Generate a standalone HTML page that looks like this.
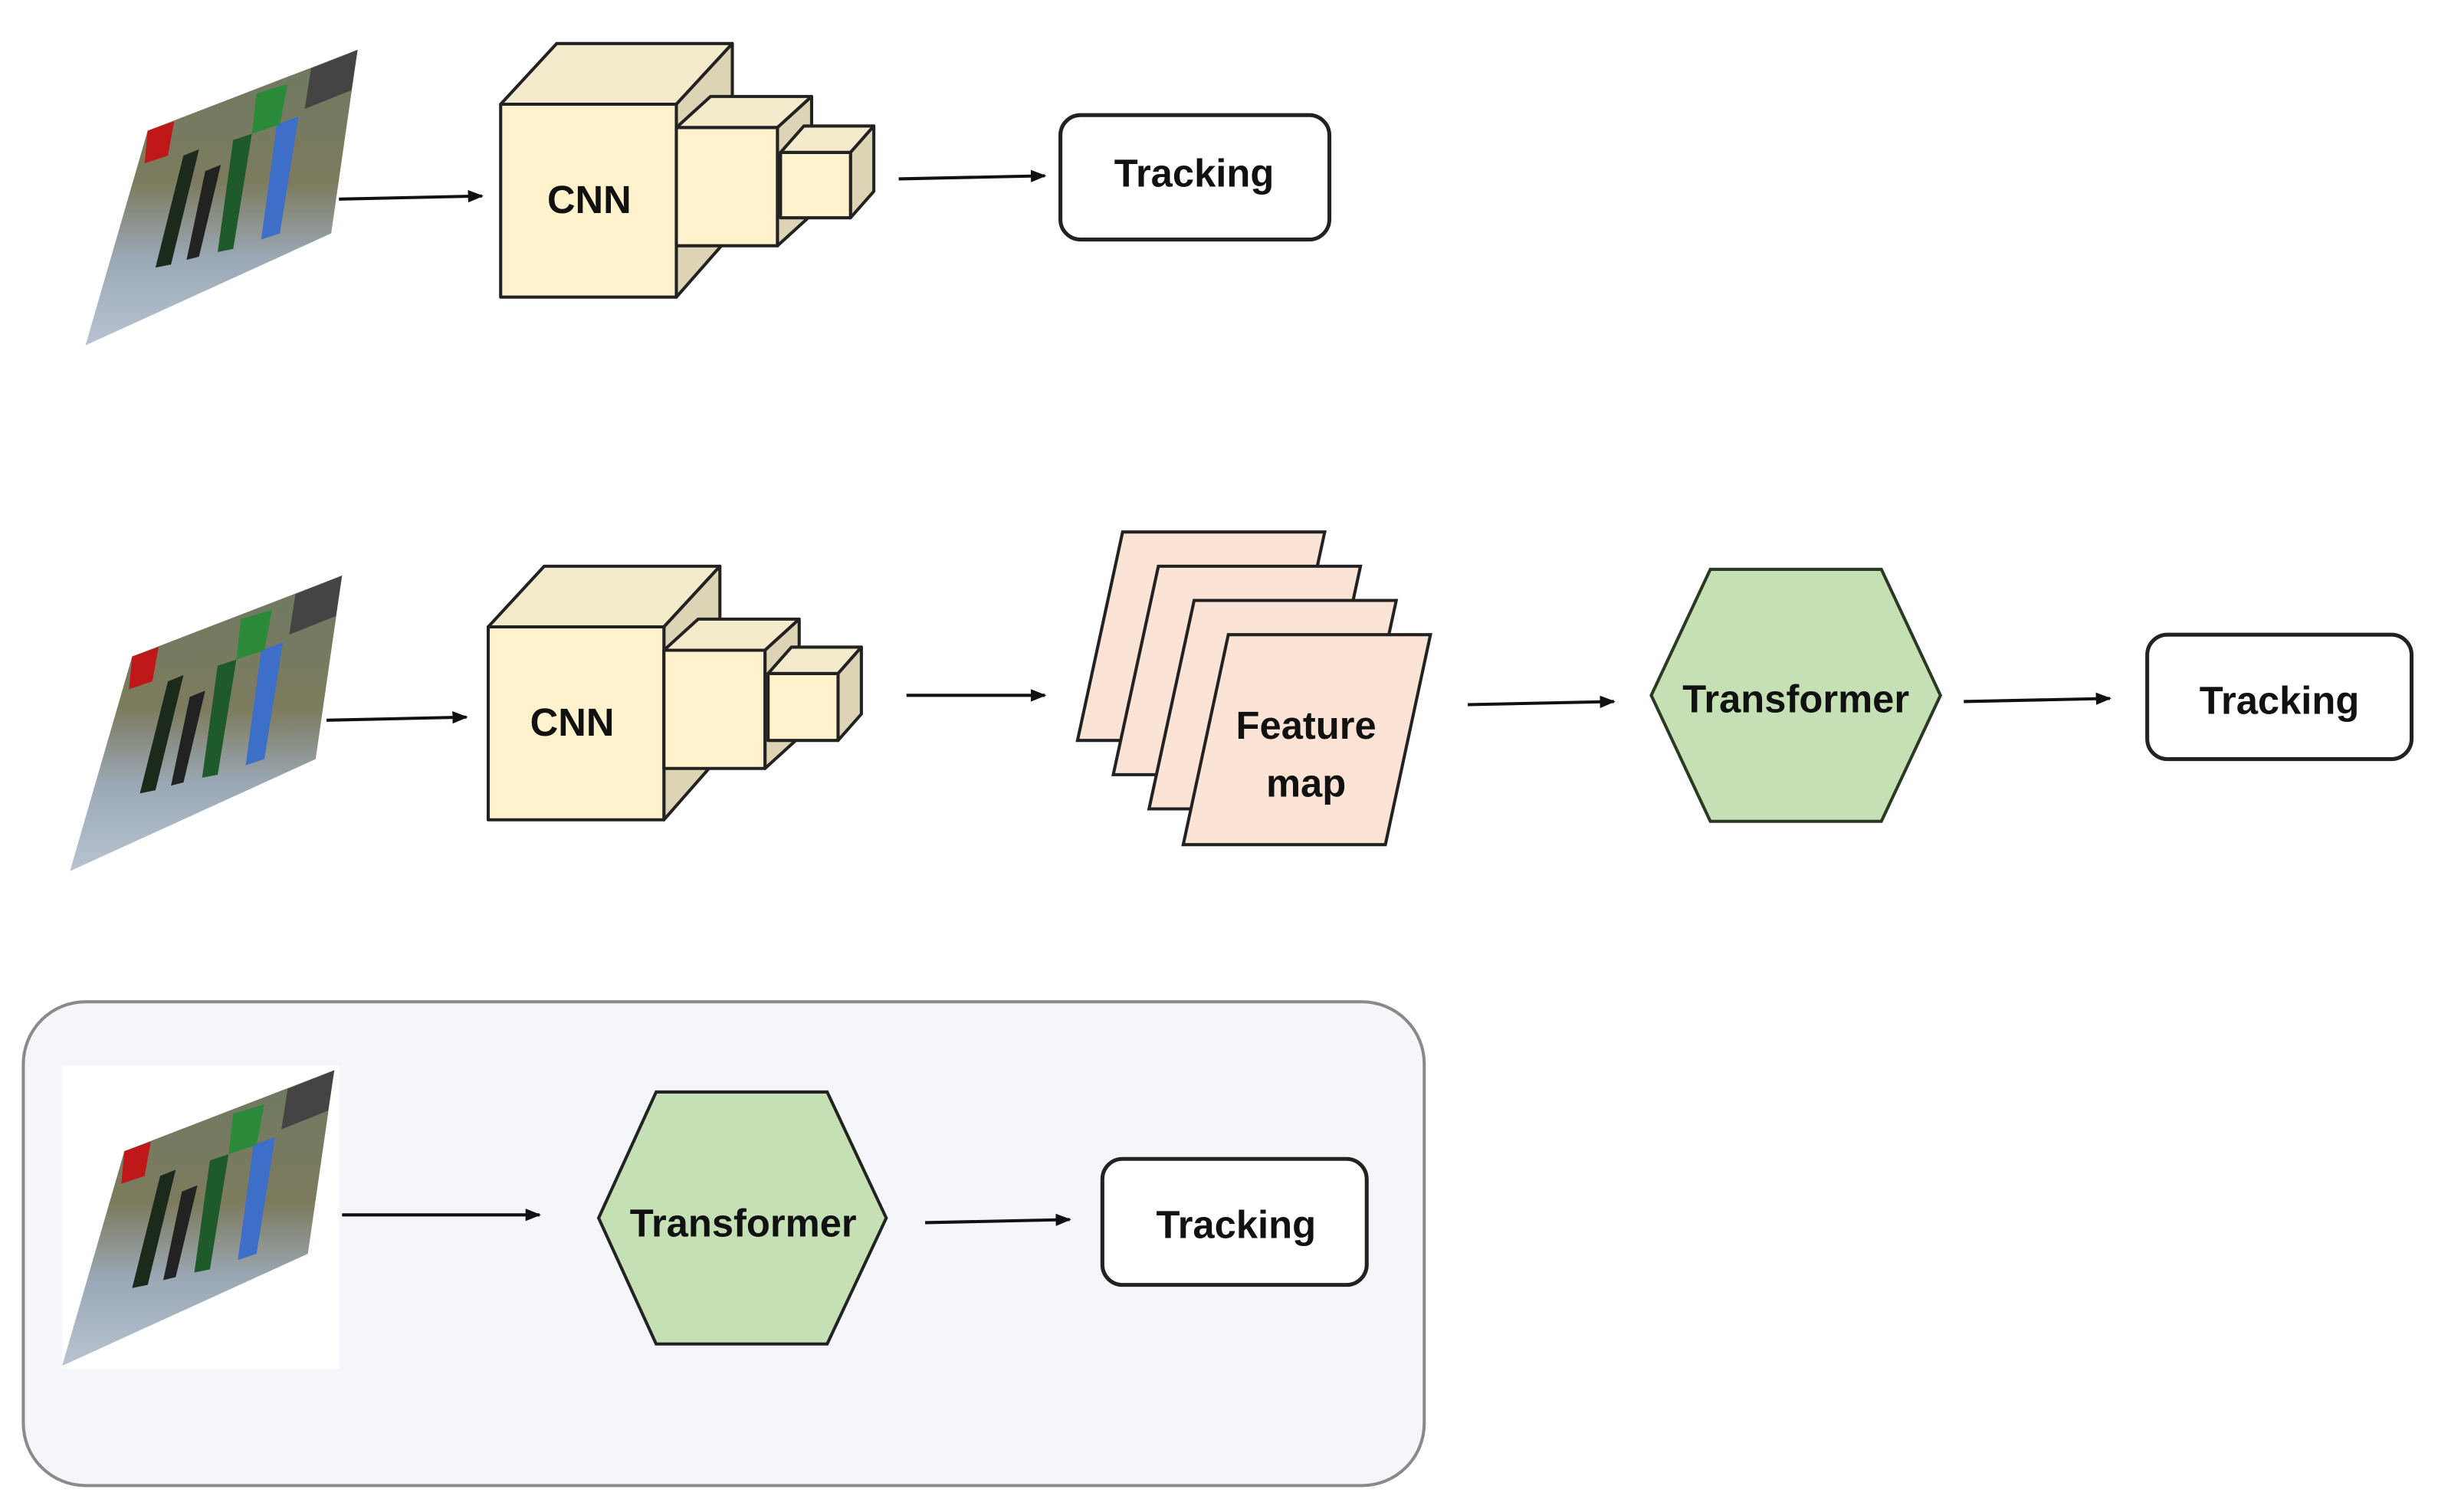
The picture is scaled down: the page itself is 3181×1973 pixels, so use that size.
<!DOCTYPE html>
<html><head><meta charset="utf-8"><style>
html,body{margin:0;padding:0;background:#fff;}
svg{display:block;}
text{font-family:"Liberation Sans",sans-serif;font-weight:bold;fill:#111;}
</style></head><body>
<svg width="3181" height="1973" viewBox="0 0 1568 972" preserveAspectRatio="none" xmlns="http://www.w3.org/2000/svg">
<defs>
<marker id="ah" markerWidth="10" markerHeight="10" refX="9" refY="5" orient="auto" markerUnits="userSpaceOnUse"><path d="M0,1 L10,5 L0,9 Z" fill="#111"/></marker>
<linearGradient id="img" x1="0" y1="0" x2="0" y2="1">
<stop offset="0" stop-color="#6d7a62"/><stop offset="0.45" stop-color="#7d7b5e"/><stop offset="0.7" stop-color="#9aa7b4"/><stop offset="1" stop-color="#b7c3d1"/></linearGradient>
<g id="photo">
<polygon points="95,84 230,32 213,150 55,222" fill="url(#img)"/>
<polygon points="95,84 112,78 108,100 93,105" fill="#c01818"/>
<polygon points="200,44 230,32 226,58 196,70" fill="#444"/>
<polygon points="118,100 128,96 110,170 100,172" fill="#1c2a1c"/>
<polygon points="150,90 162,86 150,160 140,162" fill="#1e5a2a"/>
<polygon points="178,80 192,75 180,150 168,154" fill="#3d6fc8"/>
<polygon points="132,110 142,106 128,165 120,167" fill="#222"/>
<polygon points="165,60 185,54 180,80 162,86" fill="#2a8a3a"/>
</g>
</defs>

<!-- Row 1 -->
<use href="#photo"/>
<line x1="218" y1="128" x2="310" y2="126" stroke="#111" stroke-width="2" marker-end="url(#ah)"/>
<g stroke="#222" stroke-width="2" stroke-linejoin="round">
<polygon points="322,67 358,28 471,28 435,67" fill="#f4ebcd"/>
<polygon points="435,67 471,28 471,150 435,191" fill="#ddd3b5"/>
<rect x="322" y="67" width="113" height="124" fill="#fff2cc"/>
<polygon points="435,82 457,62 522,62 500,82" fill="#f4ebcd"/>
<polygon points="500,82 522,62 522,138 500,158" fill="#ddd3b5"/>
<rect x="435" y="82" width="65" height="76" fill="#fff2cc"/>
<polygon points="502,98 517,81 562,81 547,98" fill="#f4ebcd"/>
<polygon points="547,98 562,81 562,123 547,140" fill="#ddd3b5"/>
<rect x="502" y="98" width="45" height="42" fill="#fff2cc"/>
</g>
<text x="379" y="137" font-size="25" text-anchor="middle">CNN</text>
<line x1="578" y1="115" x2="672" y2="113" stroke="#111" stroke-width="2" marker-end="url(#ah)"/>
<rect x="682" y="74" width="173" height="80" rx="13" fill="#fff" stroke="#222" stroke-width="2.5"/>
<text x="768" y="120" font-size="25" text-anchor="middle">Tracking</text>

<!-- Row 2 -->
<use href="#photo" transform="translate(-10,338)"/>
<line x1="210" y1="463" x2="300" y2="461" stroke="#111" stroke-width="2" marker-end="url(#ah)"/>
<g stroke="#222" stroke-width="2" stroke-linejoin="round">
<polygon points="314,403 350,364 463,364 427,403" fill="#f4ebcd"/>
<polygon points="427,403 463,364 463,486 427,527" fill="#ddd3b5"/>
<rect x="314" y="403" width="113" height="124" fill="#fff2cc"/>
<polygon points="427,418 449,398 514,398 492,418" fill="#f4ebcd"/>
<polygon points="492,418 514,398 514,474 492,494" fill="#ddd3b5"/>
<rect x="427" y="418" width="65" height="76" fill="#fff2cc"/>
<polygon points="494,433 509,416 554,416 539,433" fill="#f4ebcd"/>
<polygon points="539,433 554,416 554,459 539,476" fill="#ddd3b5"/>
<rect x="494" y="433" width="45" height="43" fill="#fff2cc"/>
</g>
<text x="368" y="473" font-size="25" text-anchor="middle">CNN</text>
<line x1="583" y1="447" x2="672" y2="447" stroke="#111" stroke-width="2" marker-end="url(#ah)"/>
<g stroke="#222" stroke-width="2" fill="#fbe3d6">
<polygon points="722,342 852,342 823,476 693,476"/>
<polygon points="745,364 875,364 846,498 716,498"/>
<polygon points="768,386 898,386 869,520 739,520"/>
<polygon points="790,408 920,408 891,543 761,543"/>
</g>
<text x="840" y="475" font-size="25" text-anchor="middle">Feature</text>
<text x="840" y="512" font-size="25" text-anchor="middle">map</text>
<line x1="944" y1="453" x2="1038" y2="451" stroke="#111" stroke-width="2" marker-end="url(#ah)"/>
<polygon points="1062,447 1100,366 1210,366 1248,447 1210,528 1100,528" fill="#c5e0b4" stroke="#2a3a22" stroke-width="2"/>
<text x="1155" y="458" font-size="25" text-anchor="middle">Transformer</text>
<line x1="1263" y1="451" x2="1357" y2="449" stroke="#111" stroke-width="2" marker-end="url(#ah)"/>
<rect x="1381" y="408" width="170" height="80" rx="13" fill="#fff" stroke="#222" stroke-width="2.5"/>
<text x="1466" y="459" font-size="25" text-anchor="middle">Tracking</text>

<!-- Row 3 -->
<rect x="15" y="644" width="901" height="311" rx="40" fill="#f4f6f9" stroke="#8a8a8a" stroke-width="2"/>
<rect x="40" y="685" width="178" height="195" fill="#fff"/>
<use href="#photo" transform="translate(-15,656)"/>
<line x1="220" y1="781" x2="347" y2="781" stroke="#111" stroke-width="2" marker-end="url(#ah)"/>
<polygon points="385,783 422,702 532,702 570,783 532,864 422,864" fill="#c5e0b4" stroke="#222" stroke-width="2"/>
<text x="478" y="795" font-size="25" text-anchor="middle">Transformer</text>
<line x1="595" y1="786" x2="688" y2="784" stroke="#111" stroke-width="2" marker-end="url(#ah)"/>
<rect x="709" y="745" width="170" height="81" rx="13" fill="#fff" stroke="#222" stroke-width="2.5"/>
<text x="795" y="796" font-size="25" text-anchor="middle">Tracking</text>
</svg>
</body></html>
